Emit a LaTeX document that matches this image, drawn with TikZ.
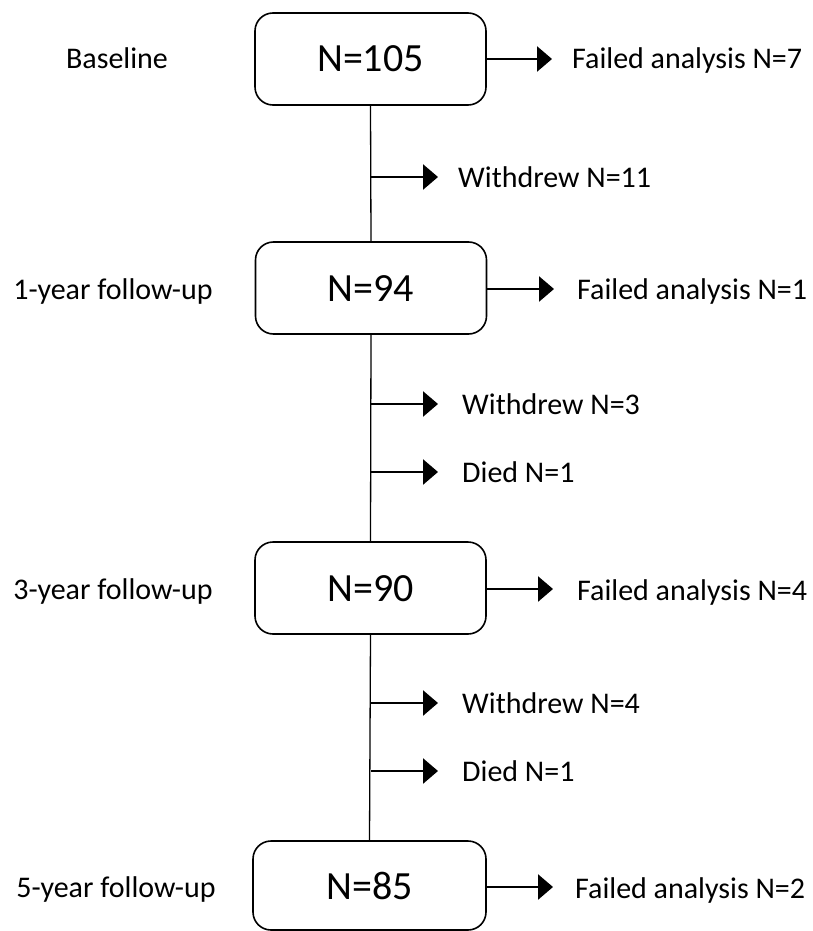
\documentclass[tikz,border=0pt]{standalone}
\usepackage{fontspec}
\setmainfont{Carlito}
\usetikzlibrary{arrows.meta}
\begin{document}
\begin{tikzpicture}[x=1pt,y=-1pt,
  stagebox/.style={draw, line width=1.6pt, rounded corners=18pt, minimum width=231pt, minimum height=92pt, inner sep=0pt},
  boxtext/.style={anchor=base, inner sep=0pt, font=\fontsize{40}{48}\selectfont},
  lbl/.style={anchor=base, inner sep=0pt, font=\fontsize{30}{36}\selectfont},
  rlbl/.style={anchor=base west, inner sep=0pt, font=\fontsize{30}{36}\selectfont},
  flow/.style={line width=1.3pt},
  outarrow/.style={line width=2.6pt, -{Triangle[length=15pt,width=25pt]}}
]
\useasboundingbox (0,0) rectangle (812,931);
% boxes
\node[stagebox] (b1) at (370.5,59) {};
\node[stagebox] (b2) at (371,288) {};
\node[stagebox] (b3) at (370.5,588) {};
\node[stagebox, minimum height=89pt, minimum width=233pt] (b4) at (369.5,885.5) {};
\node[boxtext] (t1) at (370.5,72) {N=105};
\node[boxtext] (t2) at (371,301) {N=94};
\node[boxtext] (t3) at (370.5,601) {N=90};
\node[boxtext] (t4) at (369.5,899) {N=85};
% left labels
\node[lbl] (l1) at (117,69) {Baseline};
\node[lbl] (l2) at (113,299) {1-year follow-up};
\node[lbl] (l3) at (113,599) {3-year follow-up};
\node[lbl] (l4) at (116,897) {5-year follow-up};
% vertical connectors
\draw[flow] (b1.south) -- (b2.north);
\draw[flow] (b2.south) -- (b3.north);
\draw[flow] (b3.south) -- (b4.north);
% side arrows from boxes
\coordinate (e1) at (552,59);
\coordinate (e2) at (554,289);
\coordinate (e3) at (553,589);
\coordinate (e4) at (553,887);
\draw[outarrow] (b1.east) -- (e1);
\draw[outarrow] (b2.east |- e2) -- (e2);
\draw[outarrow] (b3.east |- e3) -- (e3);
\draw[outarrow] (b4.east |- e4) -- (e4);
\node[rlbl] (f1) at (572,69) {Failed analysis N=7};
\node[rlbl] (f2) at (577,299) {Failed analysis N=1};
\node[rlbl] (f3) at (577,600) {Failed analysis N=4};
\node[rlbl] (f4) at (575,898) {Failed analysis N=2};
% middle arrows
\coordinate (s1) at (370.5,177); \coordinate (m1) at (438,177);
\coordinate (s2) at (371,404); \coordinate (m2) at (438,404);
\coordinate (s3) at (371,472); \coordinate (m3) at (438,472);
\coordinate (s4) at (370.5,703); \coordinate (m4) at (438,703);
\coordinate (s5) at (370.5,771); \coordinate (m5) at (438,771);
\draw[outarrow] (s1) -- (m1);
\draw[outarrow] (s2) -- (m2);
\draw[outarrow] (s3) -- (m3);
\draw[outarrow] (s4) -- (m4);
\draw[outarrow] (s5) -- (m5);
\node[rlbl] (w1) at (458,187) {Withdrew N=11};
\node[rlbl] (w2) at (462,414) {Withdrew N=3};
\node[rlbl] (d1) at (462,482) {Died N=1};
\node[rlbl] (w3) at (462,713) {Withdrew N=4};
\node[rlbl] (d2) at (462,781) {Died N=1};
\end{tikzpicture}
\end{document}
